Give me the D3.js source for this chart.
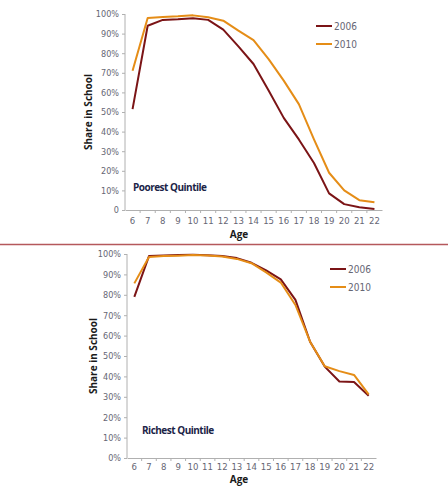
<!DOCTYPE html>
<html><head><meta charset="utf-8">
<script src="https://cdn.jsdelivr.net/npm/d3@7"></script>
<style>body{margin:0;background:#fff}svg{display:block}</style>
</head><body>
<script>
const ages = [6,7,8,9,10,11,12,13,14,15,16,17,18,19,20,21,22];
const poorest2006 = [51.5,94,97,97.3,97.8,97,92,83.5,74.5,61,47,36,24,8.5,3,1.4,0.5];
const poorest2010 = [71,98,98.5,98.8,99.3,98.3,96.6,91.5,86.7,77,66,54,36,19,10,5,4];
const richest2006 = [79,99,99.3,99.5,99.6,99.4,99,98,95.7,92,87.6,77.5,57,44.8,37.5,37.3,30.5];
const richest2010 = [85.6,98.5,99,99.2,99.5,99.3,98.8,97.6,95.5,91,86,75,57,45,42.6,40.7,31.2];
const yTicks = [0,10,20,30,40,50,60,70,80,90,100];
const seriesNames = ["2006","2010"];
const colors = {"2006":"#7b1416","2010":"#e58d17"};

const svg = d3.select("body").append("svg").attr("width",448).attr("height",486);
const tickFont = "'DejaVu Sans Condensed', 'DejaVu Sans', sans-serif";

function panel(cfg){
  const x = d3.scaleBand().domain(ages).range([cfg.x0,cfg.x1]);
  const y = d3.scaleLinear().domain([0,100]).range([cfg.y0,cfg.y1]);
  const g = svg.append("g");
  const ya = g.append("g").attr("transform",`translate(${cfg.x0},0)`)
    .call(d3.axisLeft(y).tickValues(yTicks).tickSize(3).tickPadding(3)
      .tickFormat(d => (d===0 && cfg.zeroPlain) ? "0" : d+"%"));
  ya.select(".domain").attr("stroke","#b0b0b0").attr("d",`M-0,${cfg.y0}V${cfg.y1}`);
  ya.selectAll(".tick line").attr("stroke","#b0b0b0");
  ya.selectAll("text").attr("fill","#666674").style("font-family",tickFont).style("font-size","9px");
  const xa = g.append("g").attr("transform",`translate(0,${cfg.y0})`)
    .call(d3.axisBottom(x).tickSize(0).tickPadding(cfg.xpad));
  xa.select(".domain").attr("stroke","#b0b0b0");
  xa.selectAll("text").attr("fill","#666674").style("font-family",tickFont).style("font-size","9.5px");
  xa.selectAll(".bt").data(ages.slice(1)).enter().append("line").attr("class","bt")
    .attr("x1",d=>x(d)).attr("x2",d=>x(d)).attr("y1",0).attr("y2",3).attr("stroke","#b0b0b0");
  const line = d3.line().x((d,i)=>x(ages[i])+x.bandwidth()/2).y(d=>y(d));
  [cfg.s2006,cfg.s2010].forEach((s,i)=>{
    g.append("path").datum(s).attr("d",line).attr("fill","none")
      .attr("stroke",colors[seriesNames[i]]).attr("stroke-width",2).attr("stroke-linejoin","round");
  });
  g.append("text").attr("transform",`translate(${cfg.ytx},${(cfg.y0+cfg.y1)/2}) rotate(-90)`)
    .attr("text-anchor","middle").attr("font-family","'Open Sans', sans-serif").attr("font-weight","bold")
    .attr("font-size","10px").attr("fill","#1a1a1a").text("Share in School");
  g.append("text").attr("x",239).attr("y",cfg.ageY).attr("text-anchor","middle")
    .attr("font-family","'Open Sans', sans-serif").attr("font-weight","bold").attr("font-size","10px")
    .attr("fill","#1a1a1a").text("Age");
  g.append("text").attr("x",cfg.qx).attr("y",cfg.qy).attr("font-family","'Open Sans', sans-serif")
    .attr("font-weight","bold").attr("font-size","10px").attr("letter-spacing","-0.5px")
    .attr("fill","#1b2447").text(cfg.title);
  seriesNames.forEach((n,i)=>{
    const ly = cfg.ly + i*18;
    g.append("line").attr("x1",cfg.lx).attr("x2",cfg.lx+16).attr("y1",ly).attr("y2",ly)
      .attr("stroke",colors[n]).attr("stroke-width",2);
    g.append("text").attr("x",cfg.lx+18).attr("y",ly+3.5).attr("font-family",tickFont)
      .attr("font-size","10px").attr("fill","#666674").text(n);
  });
}

panel({x0:125,x1:382,y0:210,y1:14,s2006:poorest2006,s2010:poorest2010,zeroPlain:true,xpad:7,
  ytx:92,ageY:238,qx:133,qy:191,title:"Poorest Quintile",lx:316,ly:26});
panel({x0:127,x1:376,y0:458,y1:254,s2006:richest2006,s2010:richest2010,zeroPlain:false,xpad:5,
  ytx:97,ageY:482.5,qx:142,qy:434,title:"Richest Quintile",lx:330,ly:269});

svg.append("line").attr("x1",0).attr("x2",448).attr("y1",244.5).attr("y2",244.5)
  .attr("stroke","#b5585c").attr("stroke-width",1.3);
</script>
</body></html>
